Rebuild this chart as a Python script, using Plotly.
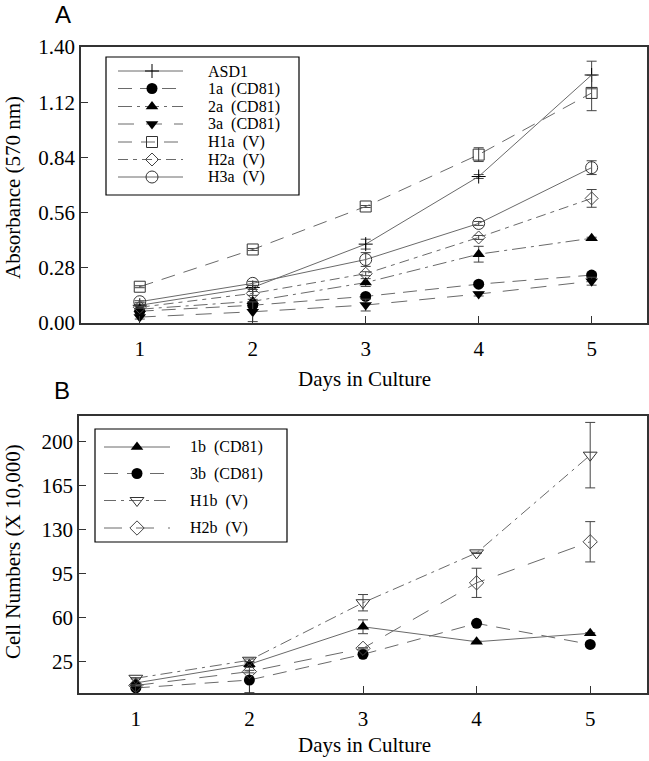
import plotly.graph_objects as go

# ---------------- data ----------------
days = [1, 2, 3, 4, 5]

# Panel A: absorbance (570 nm)
a_names = ["ASD1", "1a (CD81)", "2a (CD81)", "3a (CD81)", "H1a (V)", "H2a (V)", "H3a (V)"]
asd1 = [0.09, 0.18, 0.40, 0.743, 1.258]
a1 = [0.06, 0.09, 0.135, 0.197, 0.243]
a2 = [0.07, 0.11, 0.205, 0.349, 0.43]
a3 = [0.03, 0.057, 0.091, 0.147, 0.212]
h1a = [0.184, 0.373, 0.591, 0.854, 1.167]
h2a = [0.08, 0.15, 0.25, 0.434, 0.632]
h3a = [0.108, 0.201, 0.322, 0.505, 0.788]
asd1_err = [0.005, 0.01, 0.025, 0.01, 0.07]
a1_err = [0.005, 0.01, 0.01, 0.01, 0.01]
a2_err = [0.005, 0.01, 0.02, 0.04, 0.005]
a3_err = [0.01, 0.05, 0.03, 0.01, 0.02]
h1a_err = [0.005, 0.005, 0.005, 0.035, 0.09]
h2a_err = [0.005, 0.01, 0.01, 0.01, 0.045]
h3a_err = [0.005, 0.01, 0.035, 0.01, 0.035]
a_ticks = [0.00, 0.28, 0.56, 0.84, 1.12, 1.40]

# Panel B: cell numbers (x 10,000)
b_names = ["1b (CD81)", "3b (CD81)", "H1b (V)", "H2b (V)"]
b1 = [8, 22.8, 52.6, 40.7, 47.4]
b3 = [4, 10.3, 30.7, 55.3, 38.6]
h1b = [11.7, 26, 71.7, 111.3, 188.9]
h2b = [6, 17, 35.5, 87.5, 120.1]
b1_err = [0.5, 1, 5.5, 0.5, 0.5]
b3_err = [0.5, 10, 0.5, 0.5, 0.5]
h1b_err = [0.5, 1, 6.5, 0.5, 26]
h2b_err = [0.5, 1, 0.5, 11.6, 16]
b_ticks = [25, 60, 95, 130, 165, 200]

# ---------------- styles ----------------
W, H = 649, 761
SERIF = "Liberation Serif"
SANS = "Liberation Sans"
LINE_C = "#6a6a6a"
ERR_C = "#444444"
AX_C = "#333333"

a_series = [
    (asd1, asd1_err, dict(symbol="cross-thin-open", size=10, color="black", line=dict(color="#333", width=1)), "solid"),
    (a1, a1_err, dict(symbol="circle", size=11, color="black"), "14px,8px"),
    (a2, a2_err, dict(symbol="triangle-up", size=11, color="black"), "14px,5px,3px,5px"),
    (a3, a3_err, dict(symbol="triangle-down", size=11, color="black"), "16px,12px"),
    (h1a, h1a_err, dict(symbol="square-open", size=11, color="#333", line=dict(color="#333", width=1)), "14px,9px"),
    (h2a, h2a_err, dict(symbol="diamond-open", size=10, color="#444", line=dict(color="#444", width=1)), "10px,5px,4px,5px"),
    (h3a, h3a_err, dict(symbol="circle-open", size=12, color="#333", line=dict(color="#333", width=1)), "solid"),
]
b_series = [
    (b1, b1_err, dict(symbol="triangle-up", size=11, color="black"), "solid"),
    (b3, b3_err, dict(symbol="circle", size=11, color="black"), "14px,9px"),
    (h1b, h1b_err, dict(symbol="triangle-down-open", size=12, color="#333", line=dict(color="#333", width=1)), "12px,5px,3px,5px"),
    (h2b, h2b_err, dict(symbol="diamond-open", size=11, color="#444", line=dict(color="#444", width=1)), "18px,14px"),
]

fig = go.Figure()

def add_panel(series, xa, ya):
    for vals, err, mk, dash in series:
        fig.add_trace(go.Scatter(
            x=days, y=vals, xaxis=xa, yaxis=ya, mode="lines+markers",
            line=dict(color=LINE_C, width=1, dash=dash),
            marker=mk,
            error_y=dict(type="data", array=err, visible=True, color=ERR_C, thickness=1, width=5),
            showlegend=False, cliponaxis=False,
        ))

add_panel(a_series, "x", "y")
add_panel(b_series, "x2", "y2")

# ---------------- custom legends on a pixel overlay axis ----------------
def add_legend(names, series, box, rows, x0, x1, xm, xt):
    for name, (vals, err, mk, dash), ry in zip(names, series, rows):
        fig.add_trace(go.Scatter(
            x=[x0, x1], y=[ry, ry], xaxis="x3", yaxis="y3", mode="lines",
            line=dict(color=LINE_C, width=1, dash=dash), showlegend=False, hoverinfo="skip"))
        fig.add_trace(go.Scatter(
            x=[xm], y=[ry], xaxis="x3", yaxis="y3", mode="markers",
            marker=mk, showlegend=False, hoverinfo="skip"))
        fig.add_annotation(x=xt, y=ry, xref="x3", yref="y3", text=name.replace(" ", "\u00a0\u00a0"),
                           showarrow=False, xanchor="left", yanchor="middle",
                           font=dict(family=SERIF, size=16, color="black"))
    fig.add_shape(type="rect", xref="x3", yref="y3", x0=box[0], y0=box[1], x1=box[2], y1=box[3],
                  line=dict(color="black", width=1.2), fillcolor="rgba(0,0,0,0)")

add_legend(a_names, a_series, (106, 57, 299, 195),
           [71, 88.5, 106.5, 124, 142, 159.5, 177], 118, 183, 152, 206)
add_legend(b_names, b_series, (95, 429, 287, 542),
           [447, 473.5, 500.5, 528], 104, 170, 137, 188)

# ---------------- axes ----------------
def px_dom_x(l, r):
    return [l / W, r / W]

def px_dom_y(t, b):
    return [1 - b / H, 1 - t / H]

axis_common = dict(showgrid=False, zeroline=False, showline=True, linecolor=AX_C, linewidth=1.5,
                   mirror=True, ticks="inside", ticklen=7, tickwidth=1, tickcolor=AX_C,
                   tickfont=dict(family=SERIF, size=21, color="black"), automargin=False)

fig.update_layout(
    width=W, height=H, margin=dict(l=0, r=0, t=0, b=0),
    paper_bgcolor="white", plot_bgcolor="rgba(0,0,0,0)",
    xaxis=dict(domain=px_dom_x(81, 647), range=[0.48, 5.49], tickvals=days, anchor="y",
               ticklabelstandoff=6, **axis_common),
    yaxis=dict(domain=px_dom_y(47, 323), range=[0, 1.40], tickvals=a_ticks, tickformat=".2f",
               anchor="x", **axis_common),
    xaxis2=dict(domain=px_dom_x(79, 647), range=[0.5, 5.5], tickvals=days, anchor="y2",
                ticklabelstandoff=6, **axis_common),
    yaxis2=dict(domain=px_dom_y(416, 693), range=[0, 220], tickvals=b_ticks, anchor="x2", **axis_common),
    xaxis3=dict(domain=[0, 1], range=[0, W], visible=False, anchor="y3", fixedrange=True),
    yaxis3=dict(domain=[0, 1], range=[H, 0], visible=False, anchor="x3", fixedrange=True),
    showlegend=False,
)

# ---------------- titles / panel labels ----------------
def label(text, x, y, size=21, angle=0, family=SERIF):
    fig.add_annotation(x=x, y=y, xref="x3", yref="y3", text=text, showarrow=False,
                       textangle=angle, xanchor="center", yanchor="middle",
                       font=dict(family=family, size=size, color="black"))

label("A", 63, 14, size=24, family=SANS)
label("B", 62, 390, size=24, family=SANS)
label("Absorbance (570 nm)", 13, 188, angle=-90)
label("Days in Culture", 364, 379)
label("Cell Numbers (X 10,000)", 13, 552, angle=-90)
label("Days in Culture", 364, 745)

# remove the default 8px page margin so the figure sits at the window's corner
fig.write_html("out.html", config={"displayModeBar": False},
               post_script="document.body.style.margin='0';")
